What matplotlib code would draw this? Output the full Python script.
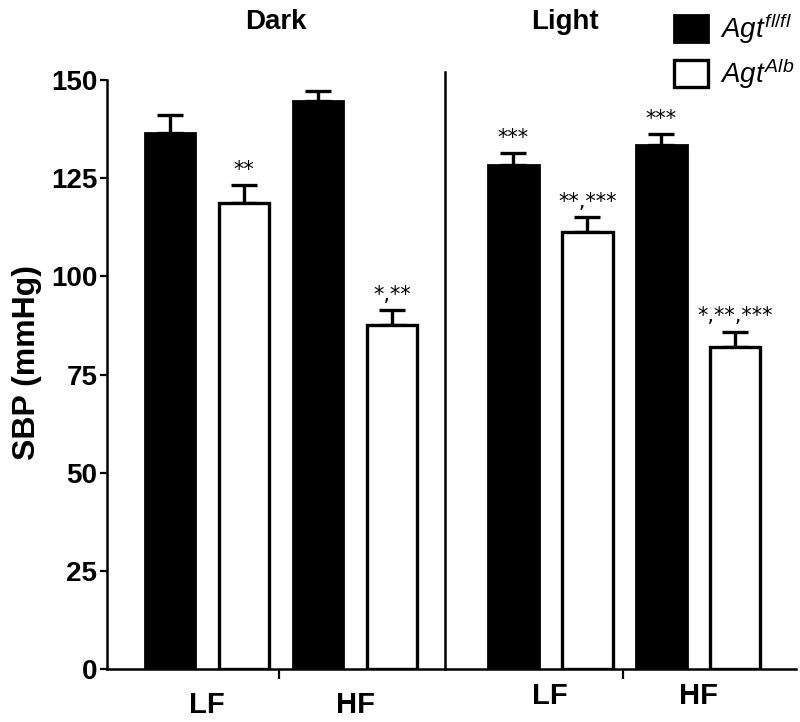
import matplotlib.pyplot as plt
import numpy as np

plt.rcParams['font.family'] = ['Liberation Sans', 'DejaVu Sans']
plt.rcParams['mathtext.fontset'] = 'custom'
plt.rcParams['mathtext.it'] = 'Liberation Sans:italic'
plt.rcParams['mathtext.rm'] = 'Liberation Sans'

# values
diets = ['LF', 'HF']
periods = ['Dark', 'Light']
flfl_mean = [136.5, 144.6, 128.3, 133.4]
flfl_err = [4.6, 2.7, 3.0, 2.8]
alb_mean = [118.7, 87.6, 111.3, 82.1]
alb_err = [4.5, 3.8, 3.7, 3.8]
flfl_stars = ['', '', '***', '***']
alb_stars = ['**', '*,**', '**,***', '*,**,***']

# bar layout: LF/HF pairs inside each period, gap between periods
gap = 1.64
pos_flfl = np.array([0, 2, 2 + gap + 1, 2 + gap + 3])
pos_alb = pos_flfl + 1
w = 0.68

fig = plt.figure(figsize=(8, 7.22), dpi=100)
ax = fig.add_axes([0.134, 0.0734, 0.861, 0.8158])

ekw = dict(ecolor='black', elinewidth=2.4, capsize=9.5, capthick=2.4, zorder=1)
ax.bar(pos_flfl, flfl_mean, w, color='black', edgecolor='black', linewidth=2,
       yerr=[np.zeros(4), flfl_err], error_kw=ekw, label=r'$\mathit{Agt}^{\mathit{fl/fl}}$', zorder=2)
ax.bar(pos_alb, alb_mean, w, color='white', edgecolor='black', linewidth=2.4,
       yerr=[np.zeros(4), alb_err], error_kw=ekw, label=r'$\mathit{Agt}^{\mathit{Alb}}$', zorder=2)

for xs, m, e, s in [(pos_flfl, flfl_mean, flfl_err, flfl_stars), (pos_alb, alb_mean, alb_err, alb_stars)]:
    for x, mm, ee, ss in zip(xs, m, e, s):
        if ss:
            ax.annotate(ss, (x, mm + ee), xytext=(0, 4), textcoords='offset points',
                        ha='center', va='bottom', fontsize=15, family='DejaVu Sans')

ax.set_ylim(0, 150)
ax.set_xlim(-0.85, pos_alb[-1] + 0.82)
ax.set_yticks([0, 25, 50, 75, 100, 125, 150])
ax.tick_params(axis='y', labelsize=20, width=1.6, length=5, pad=2)
for lab in ax.get_yticklabels():
    lab.set_fontweight('bold')
ax.set_ylabel('SBP (mmHg)', fontsize=23, fontweight='bold')
ax.yaxis.set_label_coords(-0.094, 0.52)

sep = (pos_alb[1] + pos_flfl[2]) / 2 - 0.1
ax.set_xticks([1.47, 2 + gap + 2.48])
ax.set_xticklabels([])
ax.tick_params(axis='x', width=1.6, length=7)
ax.plot([sep, sep], [0, 152], color='black', lw=1.8, clip_on=False)

title_off = [1.43, 0.7]
for i, p in enumerate(periods):
    base = 0 if i == 0 else 2 + gap + 1
    for j, d in enumerate(diets):
        yoff = -0.061 if i == 0 else -0.045
        ax.text(base + 2 * j + 0.5, yoff, d, transform=ax.get_xaxis_transform(),
                ha='center', va='center', fontsize=21, fontweight='bold')
    ax.text(base + title_off[i], 1.098, p, transform=ax.get_xaxis_transform(),
            ha='center', va='center', fontsize=20, fontweight='bold')

for sp in ['top', 'right']:
    ax.spines[sp].set_visible(False)
for sp in ['left', 'bottom']:
    ax.spines[sp].set_linewidth(1.8)

fig.legend(loc='upper left', bbox_to_anchor=(0.829, 1.0), frameon=False, fontsize=20,
           handlelength=1.2, handleheight=1.1, labelspacing=0.38, handletextpad=0.45,
           borderaxespad=0)

fig.savefig('out.png', dpi=100)
